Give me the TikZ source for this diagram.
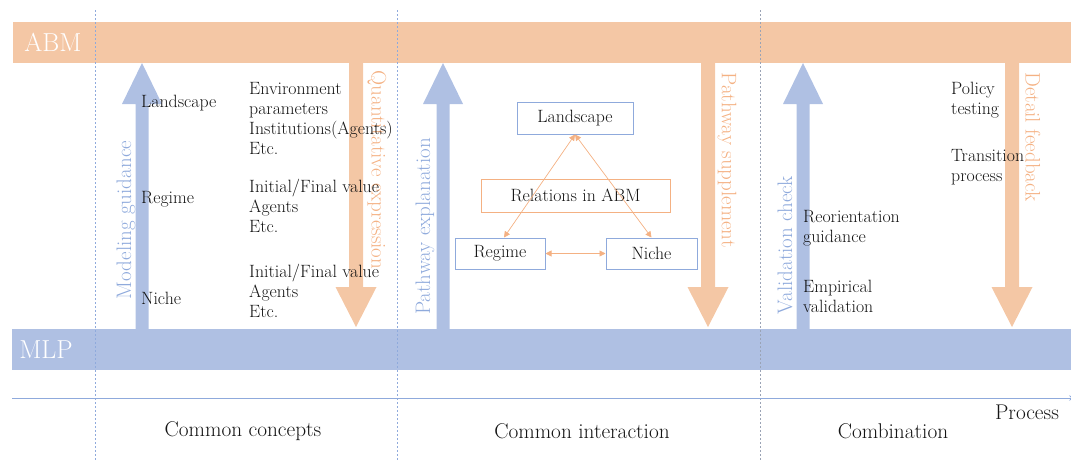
\documentclass[tikz,border=0pt]{standalone}
\usetikzlibrary{arrows.meta}
\definecolor{abmC}{HTML}{F4C7A5}
\definecolor{mlpC}{HTML}{AFC0E3}
\definecolor{orT}{HTML}{F4B183}
\definecolor{blT}{HTML}{8FAADC}
\definecolor{dashB}{HTML}{8FAADC}
\definecolor{dashG}{HTML}{9AA3B5}
\definecolor{txt}{HTML}{141414}
\newcommand\UpArr[1]{\fill[mlpC] (#1-6.5,329) -- (#1-6.5,104) -- (#1-20,104) -- (#1,63) -- (#1+20,104) -- (#1+6.5,104) -- (#1+6.5,329) -- cycle;}
\newcommand\DnArr[1]{\fill[abmC] (#1-7,63) -- (#1-7,287) -- (#1-20.5,287) -- (#1,327) -- (#1+20.5,287) -- (#1+7,287) -- (#1+7,63) -- cycle;}
\tikzset{
  body/.style={text=txt, inner sep=0pt, font=\fontsize{17.8}{20}\selectfont, align=left},
  barlabel/.style={text=white, inner sep=0pt, font=\fontsize{26}{30}\selectfont},
  sidelabel/.style={inner sep=0pt, font=\fontsize{21}{24}\selectfont},
  uplabel/.style={sidelabel, text=blT, rotate=90},
  dnlabel/.style={sidelabel, text=orT, rotate=-90},
  bbox/.style={draw=blT, line width=1pt, text=txt, font=\fontsize{17.8}{20}\selectfont, inner sep=0pt},
  obox/.style={draw=orT, line width=1pt, text=txt, font=\fontsize{17.8}{20}\selectfont, inner sep=0pt},
  rel/.style={draw=orT, line width=0.7pt, {Triangle[length=6pt,width=6pt]}-{Triangle[length=6pt,width=6pt]}},
  sep/.style={line width=0.8pt, dash pattern=on 2pt off 2pt},
  phase/.style={text=txt, inner sep=0pt, font=\fontsize{21.3}{24}\selectfont}
}
\begin{document}
\begin{tikzpicture}[x=1pt,y=-1pt]
\useasboundingbox (0,0) rectangle (1071,461);
% bars
\fill[abmC] (13,22) rectangle (1071,63);
\fill[mlpC] (12,329) rectangle (1071,370);
\node[barlabel] (abm) at (53,42) {ABM};
\node[barlabel] (mlp) at (46,350) {MLP};
% big arrows
\UpArr{142}
\UpArr{443}
\UpArr{803}
\DnArr{356}
\DnArr{708}
\DnArr{1012}
% separators
\coordinate (s1a) at (95.5,10); \coordinate (s1b) at (95.5,461);
\coordinate (s2a) at (397.5,10); \coordinate (s2b) at (397.5,461);
\coordinate (s3a) at (760,10); \coordinate (s3b) at (760,461);
\draw[sep, dashB] (s1a) -- (s1b);
\draw[sep, dashB] (s2a) -- (s2b);
\draw[sep, dashG] (s3a) -- (s3b);
% axis
\coordinate (ax0) at (12,398);
\coordinate (ax1) at (1076,398);
\draw[blT, line width=0.8pt, -{Stealth[length=7pt]}] (ax0) -- (ax1);
% rotated labels
\node[uplabel] (mg) at (126,220) {Modeling guidance};
\node[dnlabel] (qe) at (377,170) {Quantitative expression};
\node[uplabel] (pe) at (425,226.5) {Pathway explanation};
\node[dnlabel] (ps) at (727,160) {Pathway supplement};
\node[uplabel] (vc) at (785,245) {Validation check};
\node[dnlabel] (df) at (1033,137) {Detail feedback};
% left column
\node[body, anchor=west] (l1) at (141,103) {Landscape};
\node[body, anchor=west] (l2) at (141,199) {Regime};
\node[body, anchor=west] (l3) at (141,298) {Niche};
\node[body, anchor=west] (e1) at (249,119) {Environment\\parameters\\Institutions(Agents)\\Etc.};
\node[body, anchor=west] (e2) at (249,206) {Initial/Final value\\Agents\\Etc.};
\node[body, anchor=west] (e3) at (249,291) {Initial/Final value\\Agents\\Etc.};
% middle diagram
\node[bbox, minimum width=116pt, minimum height=32pt] (land) at (575,118) {Landscape};
\node[obox, minimum width=189pt, minimum height=33pt] (relabm) at (575.5,195.5) {Relations in ABM};
\node[bbox, minimum width=90pt, minimum height=31pt] (reg) at (500,253.5) {Regime};
\node[bbox, minimum width=91pt, minimum height=31pt] (nic) at (651.5,253.5) {Niche};
\draw[rel] (land.south) -- ([xshift=4pt]reg.north);
\draw[rel] (land.south) -- (nic.north);
\draw[rel] (reg.east) -- (nic.west);
% right column
\node[body, anchor=west] (r1) at (951,100) {Policy\\testing};
\node[body, anchor=west] (r2) at (951,167) {Transition\\process};
\node[body, anchor=west] (r3) at (803,228) {Reorientation\\guidance};
\node[body, anchor=west] (r4) at (803,296.5) {Empirical\\validation};
% phases
\node[phase] (p1) at (243,431) {Common concepts};
\node[phase] (p2) at (582,431) {Common interaction};
\node[phase] (p3) at (893,431) {Combination};
\node[phase] (p4) at (1027,412) {Process};
\end{tikzpicture}
\end{document}
